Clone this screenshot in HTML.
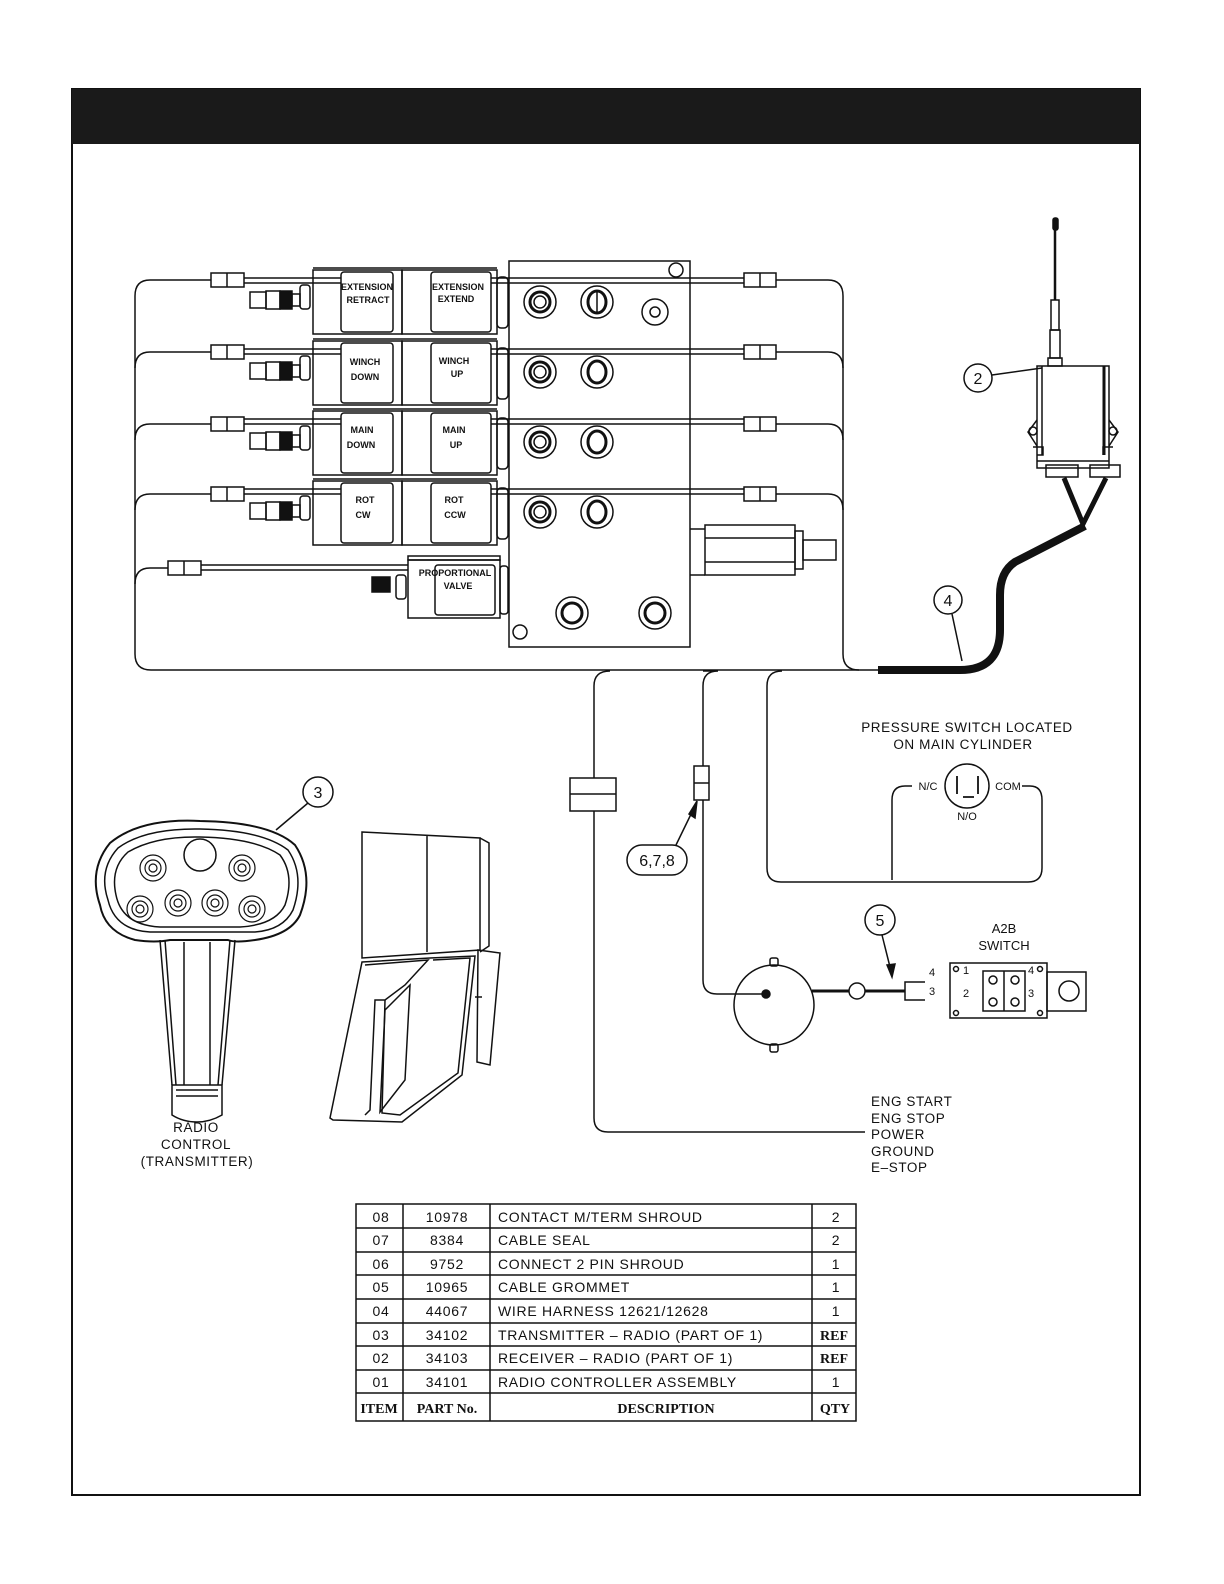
<!DOCTYPE html>
<html><head><meta charset="utf-8"><style>
html,body{margin:0;padding:0;background:#fff;width:1224px;height:1584px;overflow:hidden}
svg{display:block;position:absolute;left:0;top:0}
text{font-family:"Liberation Sans",sans-serif;fill:#111}
.s{font-size:9px;font-weight:bold}
.m{font-size:13.5px;letter-spacing:0.6px}
.t{font-size:14px;letter-spacing:0.7px}
.b{font-family:"Liberation Serif",serif;font-weight:bold;font-size:14px}
</style></head><body>
<svg width="1224" height="1584" viewBox="0 0 1224 1584" xmlns="http://www.w3.org/2000/svg" fill="none" stroke="#111" stroke-width="1.5">
<rect x="72" y="89" width="1068" height="1406" stroke-width="2"/>
<rect x="72" y="89" width="1068" height="55" fill="#1a1a1a" stroke="none"/>

<path d="M211 280 H150 Q135 280 135 296 V654 Q135 670 151 670 H880"/>
<path d="M211 352 H150 Q135 352 135 368"/>
<path d="M211 424 H150 Q135 424 135 440"/>
<path d="M211 494 H150 Q135 494 135 510"/>
<path d="M168 568 H150 Q135 568 135 584"/>
<path d="M776 280 H828 Q843 280 843 296 V654 Q843 670 859 670"/>
<path d="M776 352 H828 Q843 352 843 368"/>
<path d="M776 424 H828 Q843 424 843 440"/>
<path d="M776 494 H828 Q843 494 843 510"/>

<g stroke-width="1.5" fill="#fff">
<rect x="211" y="273" width="33" height="14"/><line x1="227" y1="273" x2="227" y2="287"/>
<rect x="211" y="345" width="33" height="14"/><line x1="227" y1="345" x2="227" y2="359"/>
<rect x="211" y="417" width="33" height="14"/><line x1="227" y1="417" x2="227" y2="431"/>
<rect x="211" y="487" width="33" height="14"/><line x1="227" y1="487" x2="227" y2="501"/>
<rect x="168" y="561" width="33" height="14"/><line x1="184" y1="561" x2="184" y2="575"/>
<rect x="744" y="273" width="32" height="14"/><line x1="760" y1="273" x2="760" y2="287"/>
<rect x="744" y="345" width="32" height="14"/><line x1="760" y1="345" x2="760" y2="359"/>
<rect x="744" y="417" width="32" height="14"/><line x1="760" y1="417" x2="760" y2="431"/>
<rect x="744" y="487" width="32" height="14"/><line x1="760" y1="487" x2="760" y2="501"/>
</g>

<rect x="509" y="261" width="181" height="386"/>
<circle cx="676" cy="270" r="7"/><circle cx="520" cy="632" r="7"/>
<g><circle cx="540" cy="302" r="16"/><circle cx="540" cy="302" r="10" stroke-width="3"/><circle cx="540" cy="302" r="6"/></g>
<g><circle cx="597" cy="302" r="16"/><ellipse cx="597" cy="302" rx="9" ry="11" stroke-width="3"/><line x1="597" y1="292" x2="597" y2="312"/></g>
<circle cx="655" cy="312" r="13"/><circle cx="655" cy="312" r="5"/>
<g><circle cx="540" cy="372" r="16"/><circle cx="540" cy="372" r="10" stroke-width="3"/><circle cx="540" cy="372" r="6"/></g>
<g><circle cx="597" cy="372" r="16"/><ellipse cx="597" cy="372" rx="9" ry="11" stroke-width="3"/></g>
<g><circle cx="540" cy="442" r="16"/><circle cx="540" cy="442" r="10" stroke-width="3"/><circle cx="540" cy="442" r="6"/></g>
<g><circle cx="597" cy="442" r="16"/><ellipse cx="597" cy="442" rx="9" ry="11" stroke-width="3"/></g>
<g><circle cx="540" cy="512" r="16"/><circle cx="540" cy="512" r="10" stroke-width="3"/><circle cx="540" cy="512" r="6"/></g>
<g><circle cx="597" cy="512" r="16"/><ellipse cx="597" cy="512" rx="9" ry="11" stroke-width="3"/></g>
<circle cx="572" cy="613" r="16"/><circle cx="572" cy="613" r="10" stroke-width="3"/>
<circle cx="655" cy="613" r="16"/><circle cx="655" cy="613" r="10" stroke-width="3"/>
<path d="M690 529 H705 M690 575 H705"/>
<rect x="705" y="525" width="90" height="50"/><line x1="705" y1="538" x2="795" y2="538"/><line x1="705" y1="562" x2="795" y2="562"/>
<rect x="795" y="531" width="8" height="38"/><rect x="803" y="540" width="33" height="20"/>

<g id="row">
<rect x="313" y="270" width="89" height="64"/><rect x="402" y="270" width="95" height="64"/>
<line x1="313" y1="268" x2="402" y2="268"/><line x1="402" y1="268" x2="497" y2="268"/>
<rect x="341" y="272" width="52" height="60" rx="3" fill="#fff"/><rect x="431" y="272" width="60" height="60" rx="3" fill="#fff"/>
<rect x="497" y="277" width="11" height="51" rx="4"/>
<rect x="300" y="285" width="10" height="24" rx="3"/>
<rect x="250" y="292" width="16" height="16"/><rect x="266" y="291" width="14" height="18"/><rect x="280" y="291" width="12" height="18" fill="#111"/><rect x="292" y="294" width="8" height="12"/>
<line x1="244" y1="278" x2="341" y2="278"/><line x1="244" y1="283" x2="341" y2="283"/>
<line x1="491" y1="278" x2="744" y2="278"/><line x1="491" y1="283" x2="744" y2="283"/>
</g>
<use href="#row" y="71"/><use href="#row" y="141"/><use href="#row" y="211"/>
<rect x="408" y="560" width="92" height="58"/><rect x="408" y="556" width="92" height="4"/>
<rect x="435" y="565" width="60" height="50" rx="3" fill="#fff"/>
<rect x="500" y="566" width="8" height="48" rx="3"/>
<rect x="396" y="575" width="10" height="24" rx="3"/>
<rect x="372" y="577" width="18" height="15" fill="#111"/>
<line x1="201" y1="565" x2="408" y2="565"/><line x1="201" y1="570" x2="408" y2="570"/>

<g stroke="none">
<text class="s" x="367" y="290" text-anchor="middle">EXTENSION</text><text class="s" x="368" y="303" text-anchor="middle">RETRACT</text>
<text class="s" x="458" y="290" text-anchor="middle">EXTENSION</text><text class="s" x="456" y="302" text-anchor="middle">EXTEND</text>
<text class="s" x="365" y="365" text-anchor="middle">WINCH</text><text class="s" x="365" y="380" text-anchor="middle">DOWN</text>
<text class="s" x="454" y="364" text-anchor="middle">WINCH</text><text class="s" x="457" y="377" text-anchor="middle">UP</text>
<text class="s" x="362" y="433" text-anchor="middle">MAIN</text><text class="s" x="361" y="448" text-anchor="middle">DOWN</text>
<text class="s" x="454" y="433" text-anchor="middle">MAIN</text><text class="s" x="456" y="448" text-anchor="middle">UP</text>
<text class="s" x="365" y="503" text-anchor="middle">ROT</text><text class="s" x="363" y="518" text-anchor="middle">CW</text>
<text class="s" x="454" y="503" text-anchor="middle">ROT</text><text class="s" x="455" y="518" text-anchor="middle">CCW</text>
<text class="s" x="455" y="576" text-anchor="middle">PROPORTIONAL</text><text class="s" x="458" y="589" text-anchor="middle">VALVE</text>
</g>

<line x1="1055" y1="222" x2="1055" y2="300" stroke-width="2.5"/>
<rect x="1053" y="218" width="5" height="12" rx="2" fill="#111"/>
<rect x="1051" y="300" width="8" height="30"/><rect x="1050" y="330" width="10" height="28"/>
<rect x="1048" y="358" width="14" height="8"/>
<rect x="1037" y="366" width="72" height="102"/>
<line x1="1042" y1="366" x2="1042" y2="455"/><line x1="1104" y1="366" x2="1104" y2="455" stroke-width="3"/>
<path d="M1037 420 L1028 432 L1037 446 M1109 420 L1118 432 L1109 446"/>
<circle cx="1033" cy="431" r="4"/><circle cx="1113" cy="431" r="4"/>
<path d="M1033 447 H1043 V455 H1037 M1113 447 H1103 V455"/>
<line x1="1037" y1="461" x2="1109" y2="461"/>
<rect x="1046" y="465" width="32" height="12"/><rect x="1090" y="465" width="30" height="12"/>
<path d="M1064 478 L1083 524 L1106 478" stroke-width="5"/>
<path d="M1085 526 L1015 562 Q1000 572 1000 595 V630 Q1000 670 960 670 H878" stroke-width="8"/>

<circle cx="978" cy="378" r="14"/><line x1="992" y1="375" x2="1042" y2="368"/>
<circle cx="948" cy="600" r="14"/><line x1="952" y1="614" x2="962" y2="661"/>
<circle cx="318" cy="792" r="15"/><line x1="308" y1="803" x2="276" y2="830"/>
<circle cx="880" cy="920" r="15"/><line x1="882" y1="935" x2="892" y2="975"/><path d="M887 965 L892 977 L895 964 Z" fill="#111"/>
<rect x="627" y="845" width="60" height="30" rx="15"/><line x1="676" y1="845" x2="694" y2="808"/><path d="M689 814 L697 801 L695 818 Z" fill="#111"/>
<g stroke="none">
<text x="978" y="384" text-anchor="middle" style="font-size:16px">2</text>
<text x="948" y="606" text-anchor="middle" style="font-size:16px">4</text>
<text x="318" y="798" text-anchor="middle" style="font-size:16px">3</text>
<text x="880" y="926" text-anchor="middle" style="font-size:16px">5</text>
<text x="657" y="866" text-anchor="middle" style="font-size:16px">6,7,8</text>
</g>

<path d="M594 1118 V686 Q594 671 610 671 M703 671 Q703 671 718 671 M718 671 Q703 671 703 686 V980 Q703 994 717 994 H765"/>
<path d="M594 1118 Q594 1132 608 1132 H865"/>
<path d="M782 671 Q767 671 767 686 V868 Q767 882 781 882 H1028 Q1042 882 1042 868 V800 Q1042 786 1030 786 H1022"/>
<path d="M892 880 V800 Q892 786 905 786 H912"/>
<rect x="570" y="778" width="46" height="33" fill="#fff"/><line x1="570" y1="794" x2="616" y2="794"/>
<rect x="694" y="766" width="15" height="34" fill="#fff"/><line x1="694" y1="783" x2="709" y2="783"/>
<circle cx="967" cy="786" r="22"/>
<path d="M957 776 V794 M963 797 H974 M978 776 V794" stroke-width="1.8"/>
<circle cx="774" cy="1005" r="40"/>
<circle cx="766" cy="994" r="4" fill="#111"/>
<rect x="770" y="958" width="8" height="8" rx="2"/><rect x="770" y="1044" width="8" height="8" rx="2"/>
<line x1="812" y1="991" x2="905" y2="991" stroke-width="3"/>
<circle cx="857" cy="991" r="8" fill="#fff"/>
<path d="M925 982 H905 V1000 H925"/>
<rect x="950" y="963" width="97" height="55"/>
<rect x="983" y="971" width="42" height="40"/><line x1="1004" y1="971" x2="1004" y2="1011"/>
<circle cx="956" cy="969" r="2.5"/><circle cx="1040" cy="969" r="2.5"/><circle cx="956" cy="1013" r="2.5"/><circle cx="1040" cy="1013" r="2.5"/>
<circle cx="993" cy="980" r="4"/><circle cx="1015" cy="980" r="4"/><circle cx="993" cy="1002" r="4"/><circle cx="1015" cy="1002" r="4"/>
<rect x="1047" y="972" width="39" height="39"/><circle cx="1069" cy="991" r="10"/>

<g stroke="none">
<text class="m" x="967" y="732" text-anchor="middle">PRESSURE  SWITCH  LOCATED</text>
<text class="m" x="963" y="749" text-anchor="middle">ON  MAIN  CYLINDER</text>
<text x="928" y="790" text-anchor="middle" style="font-size:11px">N/C</text>
<text x="1008" y="790" text-anchor="middle" style="font-size:11px">COM</text>
<text x="967" y="820" text-anchor="middle" style="font-size:11px">N/O</text>
<text x="1004" y="933" text-anchor="middle" style="font-size:13px">A2B</text>
<text x="1004" y="950" text-anchor="middle" style="font-size:13px">SWITCH</text>
<text x="929" y="976" style="font-size:11px">4</text><text x="929" y="995" style="font-size:11px">3</text>
<text x="963" y="974" style="font-size:11px">1</text><text x="963" y="997" style="font-size:11px">2</text>
<text x="1028" y="974" style="font-size:11px">4</text><text x="1028" y="997" style="font-size:11px">3</text>
<text class="m" x="871" y="1106">ENG  START</text>
<text class="m" x="871" y="1123">ENG  STOP</text>
<text class="m" x="871" y="1139">POWER</text>
<text class="m" x="871" y="1156">GROUND</text>
<text class="m" x="871" y="1172">E–STOP</text>
<text class="m" x="196" y="1132" text-anchor="middle">RADIO</text>
<text class="m" x="196" y="1149" text-anchor="middle">CONTROL</text>
<text class="m" x="197" y="1166" text-anchor="middle">(TRANSMITTER)</text>
</g>

<path d="M100 905 Q88 870 110 843 Q140 818 200 821 Q270 822 295 845 Q315 875 300 915 Q290 935 255 940 Q235 943 228 940 L170 940 Q155 943 135 940 Q105 932 100 905 Z" stroke-width="2"/>
<path d="M108 900 Q98 870 118 848 Q145 828 200 829 Q262 830 288 850 Q305 875 293 910 Q283 930 255 932 L150 932 Q115 930 108 900 Z"/>
<path d="M116 895 Q110 868 128 852 Q155 836 200 837 Q255 838 280 855 Q295 875 285 905 Q275 925 240 927 L160 927 Q122 925 116 895 Z"/>
<circle cx="200" cy="855" r="16"/>
<g stroke-width="1.2">
<circle cx="153" cy="868" r="13"/><circle cx="153" cy="868" r="8"/><circle cx="153" cy="868" r="4"/>
<circle cx="242" cy="868" r="13"/><circle cx="242" cy="868" r="8"/><circle cx="242" cy="868" r="4"/>
<circle cx="140" cy="909" r="13"/><circle cx="140" cy="909" r="8"/><circle cx="140" cy="909" r="4"/>
<circle cx="178" cy="903" r="13"/><circle cx="178" cy="903" r="8"/><circle cx="178" cy="903" r="4"/>
<circle cx="215" cy="903" r="13"/><circle cx="215" cy="903" r="8"/><circle cx="215" cy="903" r="4"/>
<circle cx="252" cy="909" r="13"/><circle cx="252" cy="909" r="8"/><circle cx="252" cy="909" r="4"/>
</g>
<path d="M160 940 L172 1085 M235 940 L222 1085 M165 940 L176 1085 M230 940 L218 1085 M184 942 V1085 M210 942 V1085"/>
<path d="M172 1085 H222 V1115 Q210 1122 197 1122 Q183 1122 172 1115 Z"/>
<path d="M176 1090 H218 M176 1096 H218"/>

<path d="M362 832 L480 838 L480 950 L362 958 Z M427 836 V952"/>
<path d="M480 838 L489 843 L489 946 L480 952"/>
<path d="M362 962 L430 958 L475 956 L462 1075 L402 1122 L333 1120 L330 1118 Z"/>
<path d="M365 965 L428 960 L405 985 L385 1000 L375 1000 L370 1110 L365 1115"/>
<path d="M433 960 L470 958 L458 1073 L400 1115 L382 1113 L385 1000"/>
<path d="M385 1010 L410 985 L405 1080 L380 1112 Z"/>
<path d="M478 950 L500 953 L490 1065 L477 1062 Z M475 997 H482"/>

<rect x="356" y="1204" width="500" height="217"/>
<path d="M403 1204 V1421 M490 1204 V1421 M812 1204 V1421"/>
<path d="M356 1228 H856 M356 1252 H856 M356 1275 H856 M356 1299 H856 M356 1323 H856 M356 1346 H856 M356 1370 H856 M356 1393 H856"/>
<g stroke="none">
<g class="t">
<text x="381" y="1222" text-anchor="middle">08</text><text x="447" y="1222" text-anchor="middle">10978</text><text x="498" y="1222">CONTACT  M/TERM  SHROUD</text><text x="836" y="1222" text-anchor="middle">2</text>
<text x="381" y="1245" text-anchor="middle">07</text><text x="447" y="1245" text-anchor="middle">8384</text><text x="498" y="1245">CABLE  SEAL</text><text x="836" y="1245" text-anchor="middle">2</text>
<text x="381" y="1269" text-anchor="middle">06</text><text x="447" y="1269" text-anchor="middle">9752</text><text x="498" y="1269">CONNECT  2  PIN  SHROUD</text><text x="836" y="1269" text-anchor="middle">1</text>
<text x="381" y="1292" text-anchor="middle">05</text><text x="447" y="1292" text-anchor="middle">10965</text><text x="498" y="1292">CABLE  GROMMET</text><text x="836" y="1292" text-anchor="middle">1</text>
<text x="381" y="1316" text-anchor="middle">04</text><text x="447" y="1316" text-anchor="middle">44067</text><text x="498" y="1316">WIRE  HARNESS  12621/12628</text><text x="836" y="1316" text-anchor="middle">1</text>
<text x="381" y="1340" text-anchor="middle">03</text><text x="447" y="1340" text-anchor="middle">34102</text><text x="498" y="1340">TRANSMITTER  –  RADIO  (PART  OF  1)</text>
<text x="381" y="1363" text-anchor="middle">02</text><text x="447" y="1363" text-anchor="middle">34103</text><text x="498" y="1363">RECEIVER  –  RADIO  (PART  OF  1)</text>
<text x="381" y="1387" text-anchor="middle">01</text><text x="447" y="1387" text-anchor="middle">34101</text><text x="498" y="1387">RADIO  CONTROLLER  ASSEMBLY</text><text x="836" y="1387" text-anchor="middle">1</text>
</g>
<text class="b" x="834" y="1340" text-anchor="middle">REF</text>
<text class="b" x="834" y="1363" text-anchor="middle">REF</text>
<text class="b" x="379" y="1413" text-anchor="middle">ITEM</text>
<text class="b" x="447" y="1413" text-anchor="middle">PART No.</text>
<text class="b" x="666" y="1413" text-anchor="middle">DESCRIPTION</text>
<text class="b" x="835" y="1413" text-anchor="middle">QTY</text>
</g>
</svg>
</body></html>
